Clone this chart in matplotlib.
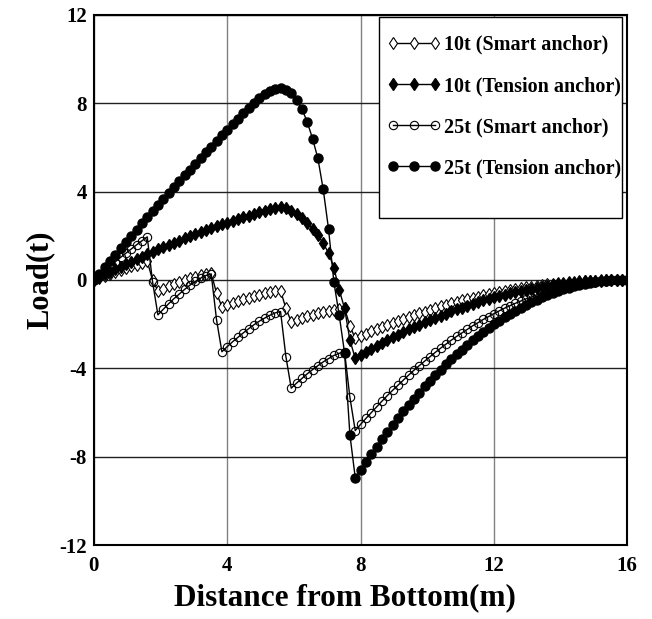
import numpy as np
import matplotlib
matplotlib.use('Agg')
import matplotlib.pyplot as plt
from matplotlib.patches import Rectangle

# distance grid along the anchor line (m), 0.16 m steps
dist = np.linspace(0, 16, 101)

# load (t), one value per grid point
smart_10t = [0.0, 0.09, 0.18, 0.27, 0.35, 0.44, 0.52, 0.61, 0.69, 0.77, 0.85,
             0.0,
             -0.50, -0.39, -0.29, -0.19, -0.09, 0.00, 0.08, 0.15, 0.22, 0.27, 0.30,
             -0.60,
             -1.21, -1.12, -1.03, -0.95, -0.87, -0.80, -0.73, -0.67, -0.61, -0.56, -0.52, -0.49,
             -1.28,
             -1.89, -1.81, -1.73, -1.65, -1.58, -1.51, -1.45, -1.39, -1.34, -1.30, -1.28,
             -2.08,
             -2.65, -2.54, -2.44, -2.33, -2.23, -2.13, -2.04, -1.94, -1.85, -1.76,
             -1.68, -1.59, -1.51, -1.43, -1.35, -1.28, -1.20, -1.13, -1.06, -1.00,
             -0.93, -0.87, -0.81, -0.75, -0.70, -0.64, -0.59, -0.54, -0.50, -0.45,
             -0.41, -0.37, -0.33, -0.30, -0.26, -0.23, -0.20, -0.18, -0.15, -0.13,
             -0.11, -0.09, -0.07, -0.05, -0.04, -0.03, -0.02, -0.01, -0.01, 0.0,
             0.0, 0.0]

tension_10t = [0.0, 0.12, 0.25, 0.37, 0.49, 0.60, 0.72, 0.83, 0.94, 1.05,
               1.16, 1.27, 1.38, 1.48, 1.58, 1.68, 1.78, 1.88, 1.97, 2.07,
               2.16, 2.25, 2.34, 2.42, 2.51, 2.59, 2.67, 2.75, 2.83, 2.91,
               2.99, 3.06, 3.14, 3.21, 3.27, 3.30, 3.26, 3.14, 2.97, 2.79,
               2.57, 2.31, 2.02, 1.66, 1.22, 0.55, -0.45, -1.28, -2.72,
               -3.55, -3.41, -3.26, -3.13, -2.99, -2.86, -2.73, -2.60, -2.48, -2.36,
               -2.24, -2.13, -2.02, -1.91, -1.81, -1.71, -1.61, -1.52, -1.42, -1.33,
               -1.25, -1.17, -1.08, -1.01, -0.93, -0.86, -0.79, -0.73, -0.67, -0.61,
               -0.55, -0.50, -0.45, -0.40, -0.35, -0.31, -0.27, -0.24, -0.20, -0.17,
               -0.14, -0.12, -0.09, -0.07, -0.06, -0.04, -0.03, -0.02, -0.01, 0.0,
               0.0, 0.0]

smart_25t = [0.0, 0.21, 0.42, 0.62, 0.82, 1.02, 1.21, 1.40, 1.59, 1.77, 1.95,
             -0.08,
             -1.58, -1.33, -1.08, -0.85, -0.64, -0.43, -0.24, -0.07, 0.08, 0.20, 0.27,
             -1.81,
             -3.25, -3.02, -2.80, -2.60, -2.40, -2.21, -2.03, -1.87, -1.73, -1.60, -1.49, -1.43,
             -3.47,
             -4.90, -4.67, -4.46, -4.25, -4.06, -3.88, -3.71, -3.56, -3.42, -3.32, -3.25,
             -5.31,
             -6.82, -6.54, -6.27, -6.01, -5.75, -5.49, -5.24, -5.00, -4.77, -4.54,
             -4.31, -4.09, -3.88, -3.68, -3.48, -3.28, -3.09, -2.91, -2.73, -2.56,
             -2.40, -2.24, -2.08, -1.94, -1.79, -1.66, -1.53, -1.40, -1.28, -1.17,
             -1.06, -0.96, -0.86, -0.77, -0.68, -0.60, -0.52, -0.45, -0.39, -0.33,
             -0.27, -0.22, -0.18, -0.14, -0.11, -0.08, -0.05, -0.03, -0.02, -0.01,
             0.0, 0.0]

tension_25t = [0.0, 0.29, 0.58, 0.87, 1.15, 1.44, 1.72, 2.00, 2.28, 2.56,
               2.84, 3.11, 3.38, 3.66, 3.93, 4.20, 4.46, 4.73, 4.99, 5.26,
               5.52, 5.78, 6.03, 6.29, 6.55, 6.80, 7.05, 7.30, 7.55, 7.80,
               8.03, 8.24, 8.42, 8.56, 8.66, 8.68, 8.62, 8.45, 8.15, 7.75,
               7.15, 6.40, 5.50, 4.10, 2.30, -0.10, -1.60, -3.30, -7.00,
               -8.95, -8.59, -8.23, -7.88, -7.54, -7.21, -6.88, -6.56, -6.26, -5.95,
               -5.66, -5.37, -5.10, -4.82, -4.56, -4.31, -4.06, -3.82, -3.59, -3.36,
               -3.15, -2.94, -2.74, -2.54, -2.35, -2.17, -2.00, -1.84, -1.68, -1.53,
               -1.39, -1.25, -1.13, -1.00, -0.89, -0.78, -0.68, -0.59, -0.51, -0.43,
               -0.36, -0.29, -0.23, -0.18, -0.14, -0.10, -0.07, -0.04, -0.02, -0.01,
               0.0, 0.0]

labels = ['10t (Smart anchor)', '10t (Tension anchor)',
          '25t (Smart anchor)', '25t (Tension anchor)']

plt.rcParams['font.family'] = ['Liberation Serif', 'DejaVu Serif']
plt.rcParams['font.weight'] = 'bold'
plt.rcParams['axes.unicode_minus'] = False

fig = plt.figure(figsize=(6.52, 6.19), dpi=100)
ax = fig.add_axes([0.144, 0.1195, 0.818, 0.8565])

ax.plot(dist, smart_10t, color='k', lw=1, marker='d', ms=6.5,
        mfc='white', mec='k', mew=0.8, label=labels[0])
ax.plot(dist, tension_10t, color='k', lw=1, marker='d', ms=6.5,
        mfc='k', mec='k', label=labels[1])
ax.plot(dist, smart_25t, color='k', lw=1, marker='o', ms=6,
        mfc='none', mec='k', mew=0.8, label=labels[2])
ax.plot(dist, tension_25t, color='k', lw=1, marker='o', ms=6.5,
        mfc='k', mec='k', label=labels[3])

ax.set_xlim(0, 16)
ax.set_ylim(-12, 12)
ax.set_xticks([0, 4, 8, 12, 16])
ax.set_yticks([-12, -8, -4, 0, 4, 8, 12])
ax.xaxis.grid(True, color='#808080', lw=1)
ax.yaxis.grid(True, color='#202020', lw=1)
ax.set_axisbelow(True)
ax.tick_params(length=0, labelsize=15)
ax.tick_params(axis='x', pad=8)
ax.tick_params(axis='y', pad=5)
for t in ax.get_xticklabels() + ax.get_yticklabels():
    t.set_fontweight('bold')
for sp in ax.spines.values():
    sp.set_linewidth(1.5)

ax.set_xlabel('Distance from Bottom(m)', fontsize=22.5, fontweight='bold')
ax.xaxis.set_label_coords(0.47, -0.072)
ax.set_ylabel('Load(t)', fontsize=22, fontweight='bold', labelpad=3)

# legend box (drawn separately so it can be taller than its entries)
ax.add_patch(Rectangle((0.535, 0.617), 0.456, 0.379, transform=ax.transAxes,
                       facecolor='white', edgecolor='k', lw=1.0, zorder=4.5))
leg = ax.legend(loc='upper right', numpoints=3, fontsize=14.5, handlelength=2.7,
                handletextpad=0.15, borderpad=0.1, labelspacing=1.05,
                frameon=False, bbox_to_anchor=(0.9925, 0.966), borderaxespad=0)
leg.set_zorder(5)

fig.savefig('out.png', dpi=100)
